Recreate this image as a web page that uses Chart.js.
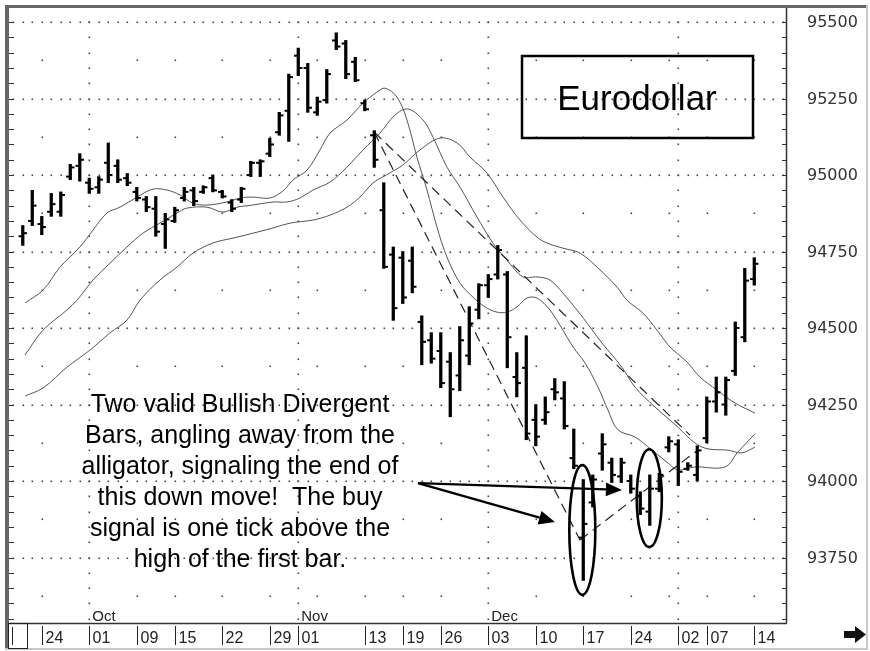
<!DOCTYPE html>
<html><head><meta charset="utf-8">
<script src="https://cdn.jsdelivr.net/npm/chart.js@4.4.1/dist/chart.umd.min.js"></script>
<style>html,body{margin:0;padding:0;background:#fff;}#wrap{width:870px;height:651px;position:relative;}</style>
</head><body><div id="wrap"><canvas id="c" width="870" height="651"></canvas></div>
<script>
// ---- data (trading-day index 0 = 2001-09-20) ----
const barIndex = [0,1,2,3,4,5,6,7,8,9,10,11,12,13,14,15,16,17,18,19,20,21,22,23,24,25,26,27,28,29,30,31,32,33,34,35,36,37,38,39,40,41,42,43,44,45,46,47,48,49,50,51,52,53,54,55,56,57,58,59,60,61,62,63,64,65,66,67,68,69,70,71,72,73,74,75,76,77];
const opens = [94800,94850,94840,94880,94880,94995,95030,94975,94960,95040,
95030,94990,94945,94920,94890,94840,94850,94925,94950,94945,
94990,94945,94910,94920,95000,95040,95070,95140,95210,95390,
95350,95205,95245,95440,95430,95370,95235,95130,94885,94740,
94730,94720,94520,94460,94425,94390,94345,94410,94560,94640,
94675,94675,94340,94370,94200,94200,94300,94270,94075,93815,
93930,94090,94060,94015,94000,93950,93900,93975,94110,94120,
94040,94020,94140,94260,94250,94360,94470,94660];
const highs = [94835,94950,94865,94940,94945,95035,95070,94990,94995,95105,
95050,95005,94960,94930,94930,94875,94895,94960,94960,94965,
95000,94950,94920,94960,95045,95050,95120,95205,95330,95415,
95365,95255,95345,95465,95440,95385,95245,95145,94975,94765,
94750,94765,94540,94485,94485,94420,94505,94570,94645,94675,
94770,94685,94420,94475,94250,94275,94335,94325,94170,94005,
94020,94155,94075,94075,94020,93965,94020,94025,94145,94135,
94060,94115,94275,94340,94340,94520,94695,94730];
const lows = [94770,94835,94805,94865,94865,94985,94980,94940,94940,94975,
94975,94965,94915,94880,94800,94760,94845,94915,94900,94940,
94945,94925,94880,94910,94995,94995,95060,95130,95110,95325,
95205,95195,95235,95410,95315,95305,95210,95025,94695,94525,
94580,94615,94380,94385,94305,94210,94295,94380,94530,94600,
94660,94370,94275,94135,94115,94185,94265,94170,94040,93675,
93915,94035,93995,93995,93960,93890,93855,93965,94095,93985,
94035,94000,94125,94225,94215,94345,94455,94640];
const closes = [94810,94900,94830,94905,94935,95025,95050,94955,94985,95000,
94985,94975,94925,94895,94815,94855,94885,94945,94915,94960,
94950,94930,94890,94955,95040,95045,95100,95195,95320,95350,
95220,95240,95330,95420,95330,95310,95215,95050,94700,94565,
94600,94635,94455,94400,94320,94300,94460,94515,94640,94660,
94755,94470,94320,94155,94145,94225,94290,94180,94050,93860,
94005,94120,94020,94060,93975,93910,93975,94020,94130,94030,
94050,94100,94260,94290,94330,94500,94655,94710];

// Alligator lines (bar index, price)
const lipsIdx = [0.23,2.13,3.92,6.02,7.39,8.86,10.23,12.02,13.71,15.18,16.55,17.92,19.39,21.49,22.86,24.23,26.02,27.39,28.44,29.92,31.28,32.34,34.13,35.81,37.28,38.13,39.39,40.44,41.49,42.55,43.6,44.65,46.02,47.39,48.65,49.92,50.97,52.02,53.07,54.13,55.49,56.86,57.92,59.18,60.55,61.6,62.65,64.44,66.23,67.92,68.97,70.76,73.92,75.28,77.07];
const lipsVal = [94582,94624,94699,94765,94820,94876,94895,94928,94954,94951,94935,94908,94902,94912,94925,94928,94925,94948,94984,95016,95082,95137,95180,95235,95271,95284,95255,95180,95059,94951,94830,94732,94647,94601,94569,94552,94552,94569,94598,94598,94559,94493,94438,94386,94307,94232,94167,94144,94101,94059,94036,94046,94046,94095,94154];
const teethIdx = [0.23,2.13,4.65,5.71,7.39,9.18,10.97,12.65,14.44,16.23,17.28,19.39,21.07,22.55,24.23,26.34,27.81,29.18,30.55,32.34,34.13,35.81,37.6,39.18,40.55,42.13,43.18,44.65,46.02,47.81,49.49,50.97,52.65,54.13,55.49,56.86,58.34,59.71,60.97,63.07,64.44,66.55,68.97,70.76,72.13,74.23,75.71,77.07];
const teethVal = [94412,94493,94559,94591,94657,94712,94765,94810,94843,94876,94892,94895,94879,94895,94902,94912,94912,94925,94951,94977,95026,95082,95137,95196,95216,95180,95124,95026,94961,94863,94778,94722,94667,94667,94657,94614,94559,94503,94451,94372,94307,94242,94176,94124,94105,94101,94092,94111];
const jawIdx = [0.23,2.13,4.65,7.07,9.18,10.97,12.34,14.44,16.23,17.92,20.02,22.13,24.23,26.34,28.13,30.55,32.34,34.13,35.49,36.86,38.65,40.02,41.81,43.92,45.71,47.07,48.86,50.55,52.34,54.13,55.18,56.86,58.65,60.76,62.55,63.6,65.28,66.76,68.13,69.92,71.29,73.07,74.97,77.07];
const jawVal = [94278,94304,94372,94428,94484,94526,94591,94657,94699,94745,94778,94794,94810,94827,94843,94853,94869,94895,94928,94974,95007,95033,95082,95121,95105,95059,95007,94928,94853,94797,94778,94761,94745,94690,94634,94591,94549,94493,94438,94389,94340,94297,94255,94222];

// dashed trend lines (bar index, price)
const trend1 = [[37,95140],[58.65,93807]];
const trend2 = [[37,95140],[70.23,94150]];
const trend3 = [[58.65,93807],[71,94100]];

// axis labels
const yTicks = [95500,95250,95000,94750,94500,94250,94000,93750];
const dateLabels = ["24","01","09","15","22","29","01","13","19","26","03","10","17","24","02","07","14"];
const dateLabelIdx = [2,7,12,16,21,26,29,36,40,44,49,54,59,64,69,72,77];
const monthLabels = ["Oct","Nov","Dec"];
const monthLabelIdx = [7,29,49];
const monthLineIdx = [7,29,49,69];
const weekIdx = [2,12,16,21,26,31,36,40,44,54,59,64,68,72,77];

// annotations (bar index, price)
const ellipses = [{i:58.9,p:93840,di:1.37,dp:212},{i:65.95,p:93944,di:1.32,dp:160}];
const arrowFrom = [41.6,93993];
const arrowTips = [[63.07,93971],[56.02,93866]];
const noteLines = ["Two valid Bullish Divergent","Bars, angling away from the","alligator, signaling the end of","this down move!  The buy","signal is one tick above the","high of the first bar."];
const titleText = "Eurodollar";

const pts = (xs, ys) => xs.map((x,k)=>({x:x,y:ys[k]}));
const seg = a => a.map(q=>({x:q[0],y:q[1]}));

const decor = {
  id:'decor',
  beforeDraw(c){
    const ctx=c.ctx; ctx.save();
    ctx.fillStyle='#fff'; ctx.fillRect(0,0,870,651);
    ctx.fillStyle='#666'; ctx.fillRect(5,5,862,3); ctx.fillRect(5,5,4,644);
    ctx.fillStyle='#c8c8c8'; ctx.fillRect(866,5,2,644); ctx.fillRect(5,648,863,2);
    ctx.restore();
  },
  beforeDatasetsDraw(c){
    const ctx=c.ctx, xs=c.scales.x, ys=c.scales.y, a=c.chartArea;
    ctx.save(); ctx.fillStyle='#444';
    const dot=(x,y)=>ctx.fillRect(Math.round(x)-0.5,Math.round(y)-0.5,1.6,1.6);
    yTicks.forEach(p=>{const y=ys.getPixelForValue(p); for(let i=-1;i<=80;i++){const x=xs.getPixelForValue(i); if(x>a.left+2&&x<a.right-2) dot(x,y);} });
    yTicks.forEach(p=>{const y=ys.getPixelForValue(p-125); if(y<a.bottom-2) weekIdx.forEach(i=>dot(xs.getPixelForValue(i),y));});
    monthLineIdx.forEach(i=>{const x=xs.getPixelForValue(i); for(let p=93550;p<=95500;p+=50) dot(x,ys.getPixelForValue(p));});
    ctx.strokeStyle='#333'; ctx.lineWidth=1.2;
    for(let p=93550;p<=95500;p+=50){const y=Math.round(ys.getPixelForValue(p))+0.5;
      ctx.beginPath(); ctx.moveTo(a.left,y); ctx.lineTo(a.left+5,y); ctx.moveTo(a.right-4,y); ctx.lineTo(a.right,y); ctx.stroke();}
    ctx.restore();
  },
  afterDatasetsDraw(c){
    const ctx=c.ctx, xs=c.scales.x, ys=c.scales.y;
    ctx.save(); ctx.fillStyle='#000';
    const meta=c.getDatasetMeta(0);
    meta.data.forEach((el,k)=>{const x=el.x; const yo=ys.getPixelForValue(opens[k]); const yc=ys.getPixelForValue(closes[k]);
      ctx.fillRect(x-4.2,yo-1,3.2,2); ctx.fillRect(x+1,yc-1,3.2,2);});
    ctx.strokeStyle='#000'; ctx.lineWidth=2.6;
    ellipses.forEach(e=>{const cx=xs.getPixelForValue(e.i), cy=ys.getPixelForValue(e.p);
      const rx=Math.abs(xs.getPixelForValue(e.i+e.di)-cx), ry=Math.abs(ys.getPixelForValue(e.p+e.dp)-cy);
      ctx.beginPath(); ctx.ellipse(cx,cy,rx,ry,0,0,Math.PI*2); ctx.stroke();});
    const fx=xs.getPixelForValue(arrowFrom[0]), fy=ys.getPixelForValue(arrowFrom[1]);
    arrowTips.forEach(t=>{const tx=xs.getPixelForValue(t[0]), ty=ys.getPixelForValue(t[1]);
      const ang=Math.atan2(ty-fy,tx-fx), L=16, W=7;
      const bx=tx-L*Math.cos(ang), by=ty-L*Math.sin(ang);
      ctx.lineWidth=2.4; ctx.beginPath(); ctx.moveTo(fx,fy); ctx.lineTo(bx,by); ctx.stroke();
      ctx.beginPath(); ctx.moveTo(tx,ty); ctx.lineTo(bx+W*Math.sin(ang),by-W*Math.cos(ang)); ctx.lineTo(bx-W*Math.sin(ang),by+W*Math.cos(ang)); ctx.closePath(); ctx.fill();});
    ctx.restore();
  },
  afterDraw(c){
    const ctx=c.ctx, xs=c.scales.x, ys=c.scales.y, a=c.chartArea;
    ctx.save();
    ctx.strokeStyle='#333'; ctx.lineWidth=1.5;
    ctx.beginPath(); ctx.moveTo(a.right+0.5,a.top); ctx.lineTo(a.right+0.5,a.bottom); ctx.stroke();
    ctx.beginPath(); ctx.moveTo(8,a.bottom+0.5); ctx.lineTo(a.right+1,a.bottom+0.5); ctx.stroke();
    ctx.fillStyle='#333'; ctx.font='16px "DejaVu Sans"'; ctx.textBaseline='middle'; ctx.textAlign='left';
    yTicks.forEach(p=>ctx.fillText(String(p),807,ys.getPixelForValue(p)+1));
    ctx.font='16px "Liberation Sans"'; ctx.textBaseline='alphabetic'; ctx.fillStyle='#222';
    ctx.lineWidth=1; ctx.strokeStyle='#222';
    dateLabelIdx.forEach((i,k)=>{const x=Math.round(xs.getPixelForValue(i))+0.5;
      ctx.beginPath(); ctx.moveTo(x,a.bottom+3); ctx.lineTo(x,a.bottom+22); ctx.stroke();
      ctx.fillText(dateLabels[k],x+3,a.bottom+20);});
    ctx.strokeRect(8.5,a.bottom+0.5,19,25); ctx.beginPath(); ctx.moveTo(12.5,a.bottom+4); ctx.lineTo(12.5,a.bottom+22); ctx.stroke();
    ctx.font='15px "Liberation Sans"';
    monthLabelIdx.forEach((i,k)=>ctx.fillText(monthLabels[k],xs.getPixelForValue(i)+3,a.bottom-2));
    ctx.fillStyle='#111'; ctx.beginPath(); ctx.moveTo(844,631); ctx.lineTo(855,631); ctx.lineTo(855,626); ctx.lineTo(866,634.5); ctx.lineTo(855,643); ctx.lineTo(855,638); ctx.lineTo(844,638); ctx.closePath(); ctx.fill();
    ctx.strokeStyle='#000'; ctx.lineWidth=2.5; ctx.strokeRect(522,56,231,82);
    ctx.fillStyle='#000'; ctx.font='35px "Liberation Sans"'; ctx.textAlign='center'; ctx.textBaseline='alphabetic';
    ctx.fillText(titleText,637,110);
    ctx.font='25px "Liberation Sans"';
    noteLines.forEach((t,k)=>ctx.fillText(t,240,412+k*31));
    ctx.restore();
  }
};

new Chart(document.getElementById('c').getContext('2d'),{
  type:'bar',
  data:{datasets:[
    {type:'bar',data:barIndex.map((i,k)=>({x:i,y:[lows[k],highs[k]]})),backgroundColor:'#000',borderWidth:0,barThickness:2.6,grouped:false,order:0},
    {type:'line',data:pts(lipsIdx,lipsVal),borderColor:'#555',borderWidth:1,pointRadius:0,tension:0.35,order:2},
    {type:'line',data:pts(teethIdx,teethVal),borderColor:'#555',borderWidth:1,pointRadius:0,tension:0.35,order:2},
    {type:'line',data:pts(jawIdx,jawVal),borderColor:'#555',borderWidth:1,pointRadius:0,tension:0.35,order:2},
    {type:'line',data:seg(trend1),borderColor:'#222',borderWidth:1.2,borderDash:[10,6],pointRadius:0,order:1},
    {type:'line',data:seg(trend2),borderColor:'#222',borderWidth:1.2,borderDash:[10,6],pointRadius:0,order:1},
    {type:'line',data:seg(trend3),borderColor:'#222',borderWidth:1.2,borderDash:[10,6],pointRadius:0,order:1}
  ]},
  options:{
    responsive:false,animation:false,devicePixelRatio:1,
    layout:{padding:{left:9,top:8,right:84,bottom:28}},
    scales:{
      x:{type:'linear',min:-1.45,max:80.34,display:false,offset:false,grid:{display:false}},
      y:{min:93536,max:95546,display:false,grid:{display:false}}
    },
    plugins:{legend:{display:false},tooltip:{enabled:false}}
  },
  plugins:[decor]
});
</script></body></html>
